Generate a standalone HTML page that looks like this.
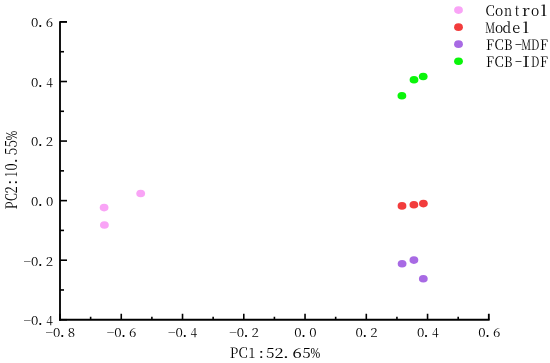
<!DOCTYPE html>
<html><head><meta charset="utf-8"><title>PCA plot</title>
<style>html,body{margin:0;padding:0;background:#fff;width:550px;height:363px;overflow:hidden}
svg{display:block} text{font-family:"Noto Serif CJK SC", "Liberation Serif", serif;font-weight:400;} text.tk{font-weight:400;} text.rt{font-weight:400;}</style></head>
<body>
<svg width="550" height="363" viewBox="0 0 550 363">
<rect width="550" height="363" fill="#fff"/>
<line x1="60" y1="21.15" x2="60" y2="320.75" stroke="#000" stroke-width="1.85"/>
<line x1="59" y1="319.75" x2="489.62" y2="319.75" stroke="#000" stroke-width="1.85"/>
<line x1="60" y1="21.95" x2="67.00" y2="21.95" stroke="#000" stroke-width="1.85"/>
<line x1="60" y1="51.73" x2="64.00" y2="51.73" stroke="#000" stroke-width="1.6"/>
<line x1="60" y1="81.51" x2="67.00" y2="81.51" stroke="#000" stroke-width="1.6"/>
<line x1="60" y1="111.29" x2="64.00" y2="111.29" stroke="#000" stroke-width="1.6"/>
<line x1="60" y1="141.07" x2="67.00" y2="141.07" stroke="#000" stroke-width="1.6"/>
<line x1="60" y1="170.85" x2="64.00" y2="170.85" stroke="#000" stroke-width="1.6"/>
<line x1="60" y1="200.63" x2="67.00" y2="200.63" stroke="#000" stroke-width="1.6"/>
<line x1="60" y1="230.41" x2="64.00" y2="230.41" stroke="#000" stroke-width="1.6"/>
<line x1="60" y1="260.19" x2="67.00" y2="260.19" stroke="#000" stroke-width="1.6"/>
<line x1="60" y1="289.97" x2="64.00" y2="289.97" stroke="#000" stroke-width="1.6"/>
<line x1="60" y1="319.75" x2="67.00" y2="319.75" stroke="#000" stroke-width="1.6"/>
<line x1="60.00" y1="319.75" x2="60.00" y2="313.75" stroke="#000" stroke-width="1.6"/>
<line x1="90.63" y1="319.75" x2="90.63" y2="316.75" stroke="#000" stroke-width="1.6"/>
<line x1="121.26" y1="319.75" x2="121.26" y2="313.75" stroke="#000" stroke-width="1.6"/>
<line x1="151.89" y1="319.75" x2="151.89" y2="316.75" stroke="#000" stroke-width="1.6"/>
<line x1="182.52" y1="319.75" x2="182.52" y2="313.75" stroke="#000" stroke-width="1.6"/>
<line x1="213.15" y1="319.75" x2="213.15" y2="316.75" stroke="#000" stroke-width="1.6"/>
<line x1="243.78" y1="319.75" x2="243.78" y2="313.75" stroke="#000" stroke-width="1.6"/>
<line x1="274.41" y1="319.75" x2="274.41" y2="316.75" stroke="#000" stroke-width="1.6"/>
<line x1="305.04" y1="319.75" x2="305.04" y2="313.75" stroke="#000" stroke-width="1.6"/>
<line x1="335.67" y1="319.75" x2="335.67" y2="316.75" stroke="#000" stroke-width="1.6"/>
<line x1="366.30" y1="319.75" x2="366.30" y2="313.75" stroke="#000" stroke-width="1.6"/>
<line x1="396.93" y1="319.75" x2="396.93" y2="316.75" stroke="#000" stroke-width="1.6"/>
<line x1="427.56" y1="319.75" x2="427.56" y2="313.75" stroke="#000" stroke-width="1.6"/>
<line x1="458.19" y1="319.75" x2="458.19" y2="316.75" stroke="#000" stroke-width="1.6"/>
<line x1="488.82" y1="319.75" x2="488.82" y2="313.75" stroke="#000" stroke-width="1.85"/>
<text transform="translate(0 27.0) scale(1 1.1)" font-size="11.0" class="tk"><tspan x="31.13" y="0" textLength="7.35" lengthAdjust="spacingAndGlyphs">0</tspan><tspan x="37.61" y="0" font-size="14.85" textLength="5.58" lengthAdjust="spacingAndGlyphs">.</tspan><tspan x="45.87" y="0" textLength="7.37" lengthAdjust="spacingAndGlyphs">6</tspan></text>
<text transform="translate(0 87.0) scale(1 1.1)" font-size="11.0" class="tk"><tspan x="31.13" y="0" textLength="7.35" lengthAdjust="spacingAndGlyphs">0</tspan><tspan x="37.61" y="0" font-size="14.85" textLength="5.58" lengthAdjust="spacingAndGlyphs">.</tspan><tspan x="46.19" y="0" textLength="6.66" lengthAdjust="spacingAndGlyphs">4</tspan></text>
<text transform="translate(0 146.0) scale(1 1.1)" font-size="11.0" class="tk"><tspan x="31.13" y="0" textLength="7.35" lengthAdjust="spacingAndGlyphs">0</tspan><tspan x="37.61" y="0" font-size="14.85" textLength="5.58" lengthAdjust="spacingAndGlyphs">.</tspan><tspan x="45.80" y="0" textLength="7.37" lengthAdjust="spacingAndGlyphs">2</tspan></text>
<text transform="translate(0 206.0) scale(1 1.1)" font-size="11.0" class="tk"><tspan x="31.13" y="0" textLength="7.35" lengthAdjust="spacingAndGlyphs">0</tspan><tspan x="37.61" y="0" font-size="14.85" textLength="5.58" lengthAdjust="spacingAndGlyphs">.</tspan><tspan x="45.93" y="0" textLength="7.35" lengthAdjust="spacingAndGlyphs">0</tspan></text>
<text transform="translate(0 266.0) scale(1 1.1)" font-size="11.0" class="tk"><tspan x="23.60" y="0" textLength="7.58" lengthAdjust="spacingAndGlyphs">−</tspan><tspan x="31.13" y="0" textLength="7.35" lengthAdjust="spacingAndGlyphs">0</tspan><tspan x="37.61" y="0" font-size="14.85" textLength="5.58" lengthAdjust="spacingAndGlyphs">.</tspan><tspan x="45.80" y="0" textLength="7.37" lengthAdjust="spacingAndGlyphs">2</tspan></text>
<text transform="translate(0 325.0) scale(1 1.1)" font-size="11.0" class="tk"><tspan x="23.60" y="0" textLength="7.58" lengthAdjust="spacingAndGlyphs">−</tspan><tspan x="31.13" y="0" textLength="7.35" lengthAdjust="spacingAndGlyphs">0</tspan><tspan x="37.61" y="0" font-size="14.85" textLength="5.58" lengthAdjust="spacingAndGlyphs">.</tspan><tspan x="46.19" y="0" textLength="6.66" lengthAdjust="spacingAndGlyphs">4</tspan></text>
<text transform="translate(0 336.7) scale(1 1.1)" font-size="11.0" class="tk"><tspan x="45.45" y="0" textLength="7.58" lengthAdjust="spacingAndGlyphs">−</tspan><tspan x="52.98" y="0" textLength="7.35" lengthAdjust="spacingAndGlyphs">0</tspan><tspan x="59.46" y="0" font-size="14.85" textLength="5.58" lengthAdjust="spacingAndGlyphs">.</tspan><tspan x="67.75" y="0" textLength="7.37" lengthAdjust="spacingAndGlyphs">8</tspan></text>
<text transform="translate(0 336.7) scale(1 1.1)" font-size="11.0" class="tk"><tspan x="106.71" y="0" textLength="7.58" lengthAdjust="spacingAndGlyphs">−</tspan><tspan x="114.24" y="0" textLength="7.35" lengthAdjust="spacingAndGlyphs">0</tspan><tspan x="120.72" y="0" font-size="14.85" textLength="5.58" lengthAdjust="spacingAndGlyphs">.</tspan><tspan x="128.98" y="0" textLength="7.37" lengthAdjust="spacingAndGlyphs">6</tspan></text>
<text transform="translate(0 336.7) scale(1 1.1)" font-size="11.0" class="tk"><tspan x="167.97" y="0" textLength="7.58" lengthAdjust="spacingAndGlyphs">−</tspan><tspan x="175.50" y="0" textLength="7.35" lengthAdjust="spacingAndGlyphs">0</tspan><tspan x="181.98" y="0" font-size="14.85" textLength="5.58" lengthAdjust="spacingAndGlyphs">.</tspan><tspan x="190.56" y="0" textLength="6.66" lengthAdjust="spacingAndGlyphs">4</tspan></text>
<text transform="translate(0 336.7) scale(1 1.1)" font-size="11.0" class="tk"><tspan x="229.23" y="0" textLength="7.58" lengthAdjust="spacingAndGlyphs">−</tspan><tspan x="236.76" y="0" textLength="7.35" lengthAdjust="spacingAndGlyphs">0</tspan><tspan x="243.24" y="0" font-size="14.85" textLength="5.58" lengthAdjust="spacingAndGlyphs">.</tspan><tspan x="251.44" y="0" textLength="7.37" lengthAdjust="spacingAndGlyphs">2</tspan></text>
<text transform="translate(0 336.7) scale(1 1.1)" font-size="11.0" class="tk"><tspan x="294.37" y="0" textLength="7.35" lengthAdjust="spacingAndGlyphs">0</tspan><tspan x="300.85" y="0" font-size="14.85" textLength="5.58" lengthAdjust="spacingAndGlyphs">.</tspan><tspan x="309.17" y="0" textLength="7.35" lengthAdjust="spacingAndGlyphs">0</tspan></text>
<text transform="translate(0 336.7) scale(1 1.1)" font-size="11.0" class="tk"><tspan x="355.63" y="0" textLength="7.35" lengthAdjust="spacingAndGlyphs">0</tspan><tspan x="362.11" y="0" font-size="14.85" textLength="5.58" lengthAdjust="spacingAndGlyphs">.</tspan><tspan x="370.31" y="0" textLength="7.37" lengthAdjust="spacingAndGlyphs">2</tspan></text>
<text transform="translate(0 336.7) scale(1 1.1)" font-size="11.0" class="tk"><tspan x="416.89" y="0" textLength="7.35" lengthAdjust="spacingAndGlyphs">0</tspan><tspan x="423.37" y="0" font-size="14.85" textLength="5.58" lengthAdjust="spacingAndGlyphs">.</tspan><tspan x="431.95" y="0" textLength="6.66" lengthAdjust="spacingAndGlyphs">4</tspan></text>
<text transform="translate(0 336.7) scale(1 1.1)" font-size="11.0" class="tk"><tspan x="478.15" y="0" textLength="7.35" lengthAdjust="spacingAndGlyphs">0</tspan><tspan x="484.63" y="0" font-size="14.85" textLength="5.58" lengthAdjust="spacingAndGlyphs">.</tspan><tspan x="492.89" y="0" textLength="7.37" lengthAdjust="spacingAndGlyphs">6</tspan></text>
<text transform="translate(0 357.6) scale(1 1.0)" font-size="14.2"><tspan x="229.75" y="0" textLength="8.49" lengthAdjust="spacingAndGlyphs">P</tspan><tspan x="238.48" y="0" textLength="9.23" lengthAdjust="spacingAndGlyphs">C</tspan><tspan x="248.54" y="0" textLength="6.86" lengthAdjust="spacingAndGlyphs">1</tspan><tspan x="258.40" y="0" textLength="5.57" lengthAdjust="spacingAndGlyphs">:</tspan><tspan x="266.11" y="0" textLength="8.41" lengthAdjust="spacingAndGlyphs">5</tspan><tspan x="274.55" y="0" textLength="9.11" lengthAdjust="spacingAndGlyphs">2</tspan><tspan x="282.71" y="0" textLength="6.38" lengthAdjust="spacingAndGlyphs">.</tspan><tspan x="292.57" y="0" textLength="9.36" lengthAdjust="spacingAndGlyphs">6</tspan><tspan x="302.23" y="0" textLength="8.41" lengthAdjust="spacingAndGlyphs">5</tspan><tspan x="310.52" y="0" font-size="15.62" font-family="Liberation Serif" textLength="9.70" lengthAdjust="spacingAndGlyphs">%</tspan></text>
<text transform="translate(16.9 0) rotate(-90) scale(1 1.12)" font-size="14.2" class="rt"><tspan x="-209.13" y="0" textLength="7.68" lengthAdjust="spacingAndGlyphs">P</tspan><tspan x="-200.93" y="0" textLength="7.81" lengthAdjust="spacingAndGlyphs">C</tspan><tspan x="-193.43" y="0" textLength="7.24" lengthAdjust="spacingAndGlyphs">2</tspan><tspan x="-184.99" y="0" textLength="5.57" lengthAdjust="spacingAndGlyphs">:</tspan><tspan x="-177.02" y="0" textLength="5.54" lengthAdjust="spacingAndGlyphs">1</tspan><tspan x="-170.45" y="0" textLength="7.11" lengthAdjust="spacingAndGlyphs">0</tspan><tspan x="-163.72" y="0" textLength="5.85" lengthAdjust="spacingAndGlyphs">.</tspan><tspan x="-155.30" y="0" textLength="7.55" lengthAdjust="spacingAndGlyphs">5</tspan><tspan x="-147.50" y="0" textLength="7.55" lengthAdjust="spacingAndGlyphs">5</tspan><tspan x="-140.38" y="0" font-size="15.62" font-family="Liberation Serif" textLength="9.37" lengthAdjust="spacingAndGlyphs">%</tspan></text>
<ellipse cx="458.5" cy="10.10" rx="4.4" ry="3.8" fill="#F9A4F6"/>
<text transform="translate(0 15.5) scale(1 1.0)" font-size="14.2"><tspan x="485.55" y="0" textLength="9.23" lengthAdjust="spacingAndGlyphs">C</tspan><tspan x="495.07" y="0" textLength="8.24" lengthAdjust="spacingAndGlyphs">o</tspan><tspan x="504.12" y="0" textLength="8.05" lengthAdjust="spacingAndGlyphs">n</tspan><tspan x="514.87" y="0" font-weight="400" textLength="4.52" lengthAdjust="spacingAndGlyphs">t</tspan><tspan x="521.93" y="0" textLength="7.87" lengthAdjust="spacingAndGlyphs">r</tspan><tspan x="530.99" y="0" textLength="8.24" lengthAdjust="spacingAndGlyphs">o</tspan><tspan x="540.61" y="0" font-weight="300" textLength="6.91" lengthAdjust="spacingAndGlyphs">l</tspan></text>
<ellipse cx="458.5" cy="27.13" rx="4.4" ry="3.8" fill="#F23C3C"/>
<text transform="translate(0 32.53) scale(1 1.0)" font-size="14.2"><tspan x="485.28" y="0" textLength="9.94" lengthAdjust="spacingAndGlyphs">M</tspan><tspan x="495.07" y="0" textLength="8.24" lengthAdjust="spacingAndGlyphs">o</tspan><tspan x="502.43" y="0" textLength="8.73" lengthAdjust="spacingAndGlyphs">d</tspan><tspan x="512.31" y="0" textLength="7.92" lengthAdjust="spacingAndGlyphs">e</tspan><tspan x="522.58" y="0" font-weight="300" textLength="6.91" lengthAdjust="spacingAndGlyphs">l</tspan></text>
<ellipse cx="458.5" cy="44.16" rx="4.4" ry="3.8" fill="#A86AE4"/>
<text transform="translate(0 49.56) scale(1 1.0)" font-size="14.2"><tspan x="486.07" y="0" textLength="8.04" lengthAdjust="spacingAndGlyphs">F</tspan><tspan x="494.53" y="0" textLength="9.23" lengthAdjust="spacingAndGlyphs">C</tspan><tspan x="503.89" y="0" textLength="8.42" lengthAdjust="spacingAndGlyphs">B</tspan><tspan x="514.50" y="-1.6" textLength="8.02" lengthAdjust="spacingAndGlyphs">-</tspan><tspan x="521.20" y="0" textLength="9.94" lengthAdjust="spacingAndGlyphs">M</tspan><tspan x="530.92" y="0" textLength="8.40" lengthAdjust="spacingAndGlyphs">D</tspan><tspan x="539.95" y="0" textLength="8.04" lengthAdjust="spacingAndGlyphs">F</tspan></text>
<ellipse cx="458.5" cy="61.19" rx="4.4" ry="3.8" fill="#0AF50A"/>
<text transform="translate(0 66.59) scale(1 1.0)" font-size="14.2"><tspan x="486.07" y="0" textLength="8.04" lengthAdjust="spacingAndGlyphs">F</tspan><tspan x="494.53" y="0" textLength="9.23" lengthAdjust="spacingAndGlyphs">C</tspan><tspan x="503.89" y="0" textLength="8.42" lengthAdjust="spacingAndGlyphs">B</tspan><tspan x="514.50" y="-1.6" textLength="8.02" lengthAdjust="spacingAndGlyphs">-</tspan><tspan x="522.06" y="0" font-weight="300" textLength="8.13" lengthAdjust="spacingAndGlyphs">I</tspan><tspan x="530.92" y="0" textLength="8.40" lengthAdjust="spacingAndGlyphs">D</tspan><tspan x="539.95" y="0" textLength="8.04" lengthAdjust="spacingAndGlyphs">F</tspan></text>
<ellipse cx="140.7" cy="193.5" rx="4.4" ry="3.8" fill="#F9A4F6"/>
<ellipse cx="104.1" cy="207.6" rx="4.4" ry="3.8" fill="#F9A4F6"/>
<ellipse cx="104.4" cy="225.0" rx="4.4" ry="3.8" fill="#F9A4F6"/>
<ellipse cx="402.0" cy="205.9" rx="4.4" ry="3.8" fill="#F23C3C"/>
<ellipse cx="413.9" cy="204.8" rx="4.4" ry="3.8" fill="#F23C3C"/>
<ellipse cx="423.4" cy="203.6" rx="4.4" ry="3.8" fill="#F23C3C"/>
<ellipse cx="402.1" cy="263.8" rx="4.4" ry="3.8" fill="#A86AE4"/>
<ellipse cx="413.9" cy="260.1" rx="4.4" ry="3.8" fill="#A86AE4"/>
<ellipse cx="423.3" cy="278.7" rx="4.4" ry="3.8" fill="#A86AE4"/>
<ellipse cx="401.9" cy="95.8" rx="4.4" ry="3.8" fill="#0AF50A"/>
<ellipse cx="414.0" cy="79.7" rx="4.4" ry="3.8" fill="#0AF50A"/>
<ellipse cx="423.2" cy="76.5" rx="4.4" ry="3.8" fill="#0AF50A"/>
</svg>
</body></html>
